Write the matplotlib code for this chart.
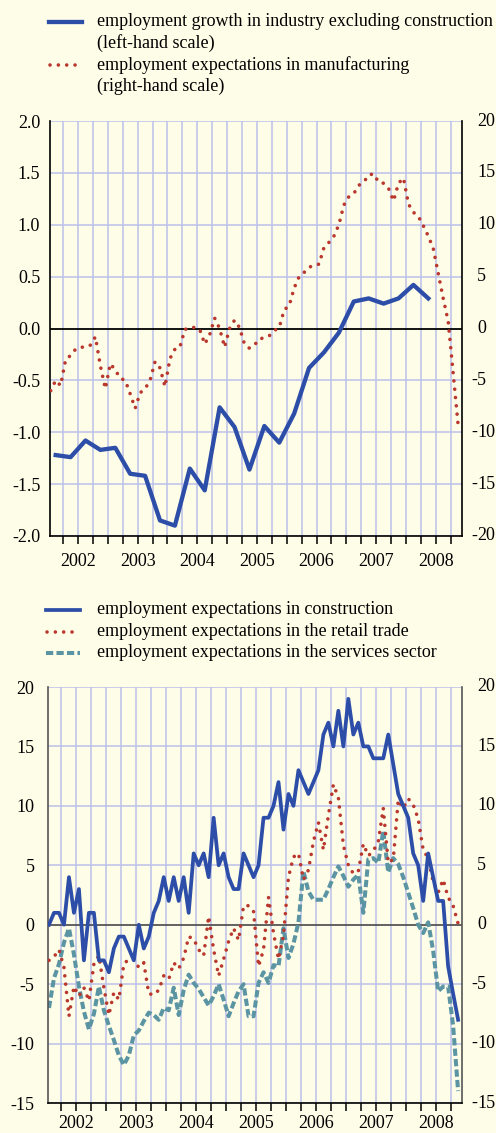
import numpy as np
import matplotlib
matplotlib.use('Agg')
import matplotlib.pyplot as plt
from matplotlib.lines import Line2D
from matplotlib.ticker import FixedLocator, FormatStrFormatter

plt.rcParams['font.family'] = ['Liberation Serif', 'DejaVu Serif']
plt.rcParams['axes.unicode_minus'] = False

bg = '#fefde8'
grid_c = '#bcc0ea'
blue = '#2d4ea8'
red = '#b9372d'
teal = '#5b94a3'

# industry excl. construction, employment growth, quarterly Q1 2002 - Q2 2008
industry_growth = [-1.22, -1.24, -1.08, -1.17, -1.15, -1.40, -1.42, -1.85, -1.90, -1.35,
                   -1.56, -0.76, -0.95, -1.36, -0.94, -1.10, -0.82, -0.38, -0.23, -0.04,
                   0.26, 0.29, 0.24, 0.29, 0.42, 0.29]

# employment expectations, monthly Jan 2002 - Nov 2008
manuf_exp = [-6.0, -5.0, -5.5, -3.0, -2.6, -2.0, -1.8, -1.8, -1.6, -0.8,
             -3.6, -5.8, -3.4, -4.0, -4.8, -5.0, -6.3, -7.7, -6.2, -5.8,
             -5.0, -3.2, -3.8, -5.6, -2.9, -2.0, -1.8, -0.1, 0.1, 0.1,
             -0.1, -1.5, -0.6, 1.0, 0.0, -1.8, 0.0, 0.8, 0.1, -1.5,
             -1.9, -1.6, -1.0, -0.9, -0.7, -0.2, 0.1, 1.8, 2.2, 3.9,
             5.0, 5.4, 5.9, 6.1, 6.2, 7.8, 8.3, 8.9, 10.0, 11.9,
             12.7, 13.0, 13.8, 14.1, 14.8, 14.9, 14.1, 14.0, 13.5, 12.3,
             14.0, 14.5, 12.0, 11.2, 10.8, 9.9, 8.9, 7.7, 5.3, 2.9,
             0.7, -4.3, -9.3]

construction_exp = [0, 1, 1, 0, 4, 1, 3, -3, 1, 1,
                    -3, -3, -4, -2, -1, -1, -2, -3, 0, -2,
                    -1, 1, 2, 4, 2, 4, 2, 4, 1, 6,
                    5, 6, 4, 9, 5, 6, 4, 3, 3, 6,
                    5, 4, 5, 9, 9, 10, 12, 8, 11, 10,
                    13, 12, 11, 12, 13, 16, 17, 15, 18, 15,
                    19, 16, 17, 15, 15, 14, 14, 14, 16, 13.5,
                    11, 10, 9, 6, 5, 2, 6, 4, 2, 2,
                    -3.5, -5.8, -8]

retail_exp = [-3.0, -2.7, -2.1, -3.6, -7.7, -5.2, -6.0, -5.3, -6.4, -3.3,
              -2.6, -5.3, -7.6, -5.7, -6.3, -3.3, -2.9, -2.9, -3.6, -3.2,
              -5.8, -5.9, -5.5, -4.3, -4.6, -3.2, -3.7, -2.8, -1.0, -1.2,
              -2.1, -2.6, 0.7, -2.1, -4.3, -2.9, -1.4, -0.3, -1.3, 1.6,
              1.6, 1.1, -3.5, -2.1, 2.3, -0.7, -2.9, -0.9, 4.0, 5.7,
              6.0, 3.8, 4.6, 7.0, 8.6, 6.3, 9.2, 11.8, 10.7, 6.7,
              5.0, 4.3, 4.5, 6.8, 5.8, 6.2, 7.0, 9.8, 5.2, 5.5,
              10.5, 9.8, 10.6, 10.1, 8.9, 6.3, 5.6, 3.6, 2.7, 3.8,
              2.3, 1.6, 0.1]

services_exp = [-7.0, -4.5, -3.3, -1.5, -0.3, -2.5, -5.2, -7.3, -8.8, -7.5,
                -5.2, -7.2, -8.5, -9.7, -11.0, -11.8, -11.0, -9.3, -8.9, -8.1,
                -7.4, -7.6, -8.0, -7.0, -7.2, -5.3, -7.6, -5.5, -4.2, -4.9,
                -5.4, -6.1, -6.8, -6.0, -5.0, -6.3, -7.7, -6.6, -5.6, -5.0,
                -7.7, -7.7, -4.9, -4.0, -4.9, -3.4, -3.5, -0.3, -2.8, -1.6,
                0.2, 4.5, 2.8, 2.1, 2.1, 2.1, 3.0, 4.0, 4.9, 4.1,
                3.2, 3.8, 4.2, 1.0, 5.5, 5.6, 5.2, 7.9, 4.4, 5.6,
                5.1, 4.0, 2.7, 1.4, 0.0, -0.7, 0.2, -2.2, -5.6, -5.2,
                -5.2, -8.5, -14.0]

years = [2002, 2003, 2004, 2005, 2006, 2007, 2008]

months = 2002 + (np.arange(len(manuf_exp)) + 0.5) / 12
quarters = 2002 + (np.arange(len(industry_growth)) * 3 + 1.5) / 12
quarter_ticks = 2002 + np.arange(1, 28) * 0.25
year_mid = [y + 0.5 for y in years]

W, H = 496, 1133
fig = plt.figure(figsize=(W / 100, H / 100), dpi=100, facecolor=bg)

FS = 13


def frame(ax, ylo, yhi, ystep, fmt, zero_c, spine_c, lpad, xpad):
    ax.set_facecolor(bg)
    ax.set_xlim(2002.03, 2008.935)
    ax.set_ylim(ylo, yhi)
    yt = np.arange(ylo, yhi + ystep / 2, ystep)
    ax.set_yticks(yt)
    ax.yaxis.set_major_formatter(FormatStrFormatter(fmt))
    for v in yt:
        if abs(v) < 1e-9:
            continue
        ax.axhline(v, color=grid_c, lw=1.1, zorder=0.5)
    for q in quarter_ticks:
        ax.axvline(q, color=grid_c, lw=1.1, zorder=0.5)
    ax.axhline(0, color=zero_c, lw=1.3, zorder=1)
    ax.xaxis.remove_overlapping_locs = False
    ax.xaxis.set_major_locator(FixedLocator(quarter_ticks))
    ax.xaxis.set_major_formatter(plt.NullFormatter())
    ax.xaxis.set_minor_locator(FixedLocator(year_mid))
    ax.set_xticklabels([str(y) for y in years], minor=True)
    ax.tick_params(axis='x', which='major', length=6, width=1.1, color='black', direction='out')
    ax.tick_params(axis='x', which='minor', length=0, pad=xpad, labelsize=FS)
    ax.tick_params(axis='y', length=0, pad=lpad, labelsize=FS)
    ax.spines['top'].set_visible(False)
    for s in ('left', 'right'):
        ax.spines[s].set_color(spine_c)
        ax.spines[s].set_linewidth(1.2)
    ax.spines['bottom'].set_color('black')
    ax.spines['bottom'].set_linewidth(1.2)


def right_axis(ax, ylo, yhi, ystep):
    # digits line up on the left, a minus sign hangs in front of them
    ax2 = ax.twinx()
    ax2.set_ylim(ylo, yhi)
    ax2.set_yticks([])
    for s in ax2.spines.values():
        s.set_visible(False)
    for v in np.arange(ylo, yhi + ystep / 2, ystep):
        iv = int(round(v))
        where = dict(xy=(1, iv), xycoords=('axes fraction', 'data'),
                     xytext=(15.5, 0), textcoords='offset pixels',
                     va='center', fontsize=FS)
        ax2.annotate(str(abs(iv)), ha='left', **where)
        if iv < 0:
            ax2.annotate('-', ha='right', **where)
    return ax2


dots = dict(linestyle=(0, (0.01, 2.3)), dash_capstyle='round', lw=2.6)
dashes = dict(linestyle=(0, (1.8, 0.8)), dash_capstyle='butt', lw=2.9)

# upper panel: industry
ax1 = fig.add_axes([50 / W, 1 - 536 / H, 411.7 / W, 415 / H])
frame(ax1, -2.0, 2.0, 0.5, '%.1f', 'black', 'black', 7, 12)
ax1.plot(quarters, industry_growth, color=blue, lw=3.1, zorder=3)
ax1r = right_axis(ax1, -20, 20, 5)
ax1r.plot(months, manuf_exp, color=red, zorder=3, **dots)

# lower panel: construction, retail, services
ax2 = fig.add_axes([48.3 / W, 1 - 1103 / H, 413.4 / W, 416 / H])
frame(ax2, -15, 20, 5, '%d', '#555555', '#555555', 10, 8.5)
ax2.plot(months, services_exp, color=teal, zorder=2, **dashes)
ax2.plot(months, retail_exp, color=red, zorder=3, **dots)
ax2.plot(months, construction_exp, color=blue, lw=2.7, zorder=4)
right_axis(ax2, -15, 20, 5)


def legend_row(x0, x1, y, text, **style):
    fy = 1 - y / H
    fig.add_artist(Line2D([x0 / W, x1 / W], [fy, fy], transform=fig.transFigure, **style))
    fig.text(97 / W, fy, text, fontsize=FS, va='center', ha='left')


def legend_text(y, text):
    fig.text(97 / W, 1 - y / H, text, fontsize=FS, va='center', ha='left')


legend_row(49, 82, 21.7, 'employment growth in industry excluding construction', color=blue, lw=3.1)
legend_text(43.4, '(left-hand scale)')
legend_row(50, 82, 65, 'employment expectations in manufacturing', color=red, **dots)
legend_text(86.7, '(right-hand scale)')

legend_row(46, 80, 610, 'employment expectations in construction', color=blue, lw=2.7)
legend_row(47, 80, 631.7, 'employment expectations in the retail trade', color=red, **dots)
legend_row(46, 80, 652.7, 'employment expectations in the services sector', color=teal, **dashes)

fig.savefig('out.png', dpi=100, facecolor=bg)
